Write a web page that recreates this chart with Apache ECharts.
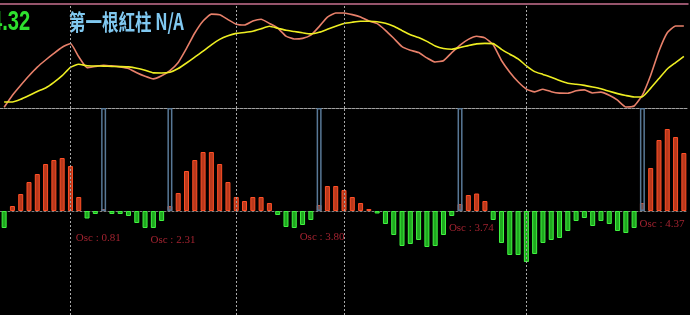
<!DOCTYPE html>
<html><head><meta charset="utf-8">
<script src="https://cdn.jsdelivr.net/npm/echarts@6/dist/echarts.min.js"></script>
<style>html,body{margin:0;padding:0;background:#000;}#c{width:690px;height:315px;}</style>
</head><body><div id="c"></div>
<script>
// price line (salmon) and moving average (yellow), top panel
const priceLine = [0.8,12.8,22.8,32.3,40.9,48,54.6,60.8,64.5,51.2,40.4,41.6,42.8,42.1,41.1,39.6,35.2,31.7,29.1,32.2,37.4,45.5,59.6,75,87,93.9,93.2,88.4,83.8,83,87,88.8,84.6,80,71.8,69,69.6,72.8,81.4,90.9,95,95,93.4,91,86.9,84.4,77.7,69.7,61.4,57.8,55.4,50.1,46,47.3,55.3,62.9,68.6,71.7,70.1,63.2,47.5,35.8,26.2,18.9,16.1,18.8,16.3,14.9,14.8,17.2,18.1,15,15.9,12.7,7.8,1,2,12.9,32.8,57,75.2,82,82];
const avgLine = [6,6,8.7,12.5,16.5,20,25.6,32.3,40.6,43.8,42.2,42,41.9,41.6,41.4,41.1,39.8,37.7,35.1,35,35.8,39.5,45,50.9,56.8,63.2,68.6,72.2,74.6,75.5,76.7,79.2,81.7,79.8,77.7,76.5,75.2,74.1,75.7,78.7,81.7,84.5,85.8,86.8,86.7,86.3,84.8,81.7,77.4,73.3,70.4,66.6,62.1,59.5,58.7,60.5,62.4,64.1,64.6,64.4,58.6,53.8,49.1,42.2,36.4,33.6,30.8,27.4,24.7,23.8,22.6,21,19.2,16.7,14.4,12.5,11,11.3,19.9,29.5,39,45.4,51.7];
// oscillator histogram, bottom panel
const osc = [-1.7,0.5,1.7,2.9,3.7,4.7,5.1,5.3,4.5,1.4,-0.75,-0.3,0.2,-0.3,-0.3,-0.5,-1.2,-1.7,-1.7,-1.0,0.5,1.8,4.0,5.1,5.9,5.9,4.7,2.9,1.4,1.0,1.4,1.4,0.8,-0.4,-1.6,-1.7,-1.4,-0.9,0.6,2.5,2.5,2.1,1.4,0.8,0.2,-0.25,-1.3,-2.4,-3.5,-3.3,-2.9,-3.6,-3.5,-2.4,-0.5,0.7,1.6,1.75,1.0,-0.9,-3.2,-4.4,-4.4,-5.1,-4.3,-3.2,-2.9,-2.7,-2.0,-1.0,-0.7,-1.5,-1.0,-1.3,-2.0,-2.2,-1.7,0.8,4.3,7.1,8.2,7.4,5.8];
const markerIdx = [12,20,38,55,77];
const vlineIdx = [8,28,41,63];
const labelIdx = [11,20,38,56,79];
const labelVal = [-2.7,-2.9,-2.6,-1.7,-1.3];
const labelText = ['Osc : 0.81','Osc : 2.31','Osc : 3.80','Osc : 3.74','Osc : 4.37'];
const headValue = '4.32';
const headText = '第一根紅柱 N/A';
const categories = osc.map((_, i) => String(i + 1));

const oscTop = 10.3, oscBottom = -10.4;

const oscData = osc.map((v, i) => {
  const pos = v >= 0;
  const isMarker = markerIdx.indexOf(i) >= 0;
  return {
    value: v,
    itemStyle: {
      color: isMarker ? '#7a4a44' : (pos ? '#b8391c' : '#1fa81f'),
      borderColor: isMarker ? '#c0503a' : (pos ? '#ff4f26' : '#40f540'),
      borderWidth: 1
    }
  };
});
const markerData = categories.map((_, i) => markerIdx.indexOf(i) >= 0 ? oscTop : '-');
const vlines = vlineIdx.map(i => ({ xAxis: i }));
const vlineStyle = { color: '#a8a8a8', type: [2, 2], width: 1 };

const chart = echarts.init(document.getElementById('c'));
chart.setOption({
  backgroundColor: '#000',
  animation: false,
  grid: [
    { left: -1, right: 2, top: 4, height: 104 },
    { left: -1, right: 2, top: 108, height: 207 }
  ],
  xAxis: [
    { type: 'category', data: categories, gridIndex: 0, boundaryGap: true,
      axisLine: { lineStyle: { color: '#a0a0a0', type: [3, 1], width: 1 } },
      axisTick: { show: false }, axisLabel: { show: false }, splitLine: { show: false } },
    { type: 'category', data: categories, gridIndex: 0, position: 'top', boundaryGap: true,
      axisLine: { lineStyle: { color: '#c8708e', width: 1.5 } },
      axisTick: { show: false }, axisLabel: { show: false }, splitLine: { show: false } },
    { type: 'category', data: categories, gridIndex: 1, boundaryGap: true,
      axisLine: { onZero: true, lineStyle: { color: '#808080', type: [2, 2], width: 1 } },
      axisTick: { show: false }, axisLabel: { show: false }, splitLine: { show: false } }
  ],
  yAxis: [
    { type: 'value', gridIndex: 0, min: 0, max: 104, show: false, splitLine: { show: false } },
    { type: 'value', gridIndex: 1, min: oscBottom, max: oscTop, show: false, splitLine: { show: false } }
  ],
  series: [
    { type: 'line', xAxisIndex: 0, yAxisIndex: 0, data: priceLine, symbol: 'none', smooth: 0.15, clip: false,
      lineStyle: { color: '#e8806a', width: 1.6 },
      markLine: { silent: true, symbol: 'none', label: { show: false }, lineStyle: vlineStyle, data: vlines } },
    { type: 'line', xAxisIndex: 0, yAxisIndex: 0, data: avgLine, symbol: 'none', smooth: 0.15, clip: false,
      lineStyle: { color: '#eeee22', width: 1.6 } },
    { type: 'bar', xAxisIndex: 2, yAxisIndex: 1, data: oscData, barWidth: 5, barGap: '-100%',
      markLine: { silent: true, symbol: 'none', label: { show: false }, lineStyle: vlineStyle, data: vlines } },
    { type: 'bar', xAxisIndex: 2, yAxisIndex: 1, data: markerData, barWidth: 5, barGap: '-100%',
      itemStyle: { color: 'rgba(0,0,0,0)', borderColor: '#587896', borderWidth: 1.5 } },
    { type: 'scatter', xAxisIndex: 2, yAxisIndex: 1, symbolSize: 0,
      data: labelIdx.map((x, k) => [x, labelVal[k]]),
      label: { show: true, position: 'inside', offset: [3, 0],
        formatter: p => labelText[p.dataIndex],
        color: '#cc2c3c', fontFamily: 'Liberation Serif', fontSize: 11 } }
  ],
  graphic: [
    { type: 'text', x: -9, y: 22, scaleX: 0.72, silent: true,
      style: { text: headValue, fill: '#2ee02e', font: 'bold 28px "Liberation Sans"', textVerticalAlign: 'middle' } },
    { type: 'text', x: 69, y: 22, scaleX: 0.75, silent: true,
      style: { text: headText, fill: '#80c8f0', font: 'bold 22px "Noto Sans CJK TC"', textVerticalAlign: 'middle' } }
  ]
});
</script></body></html>
